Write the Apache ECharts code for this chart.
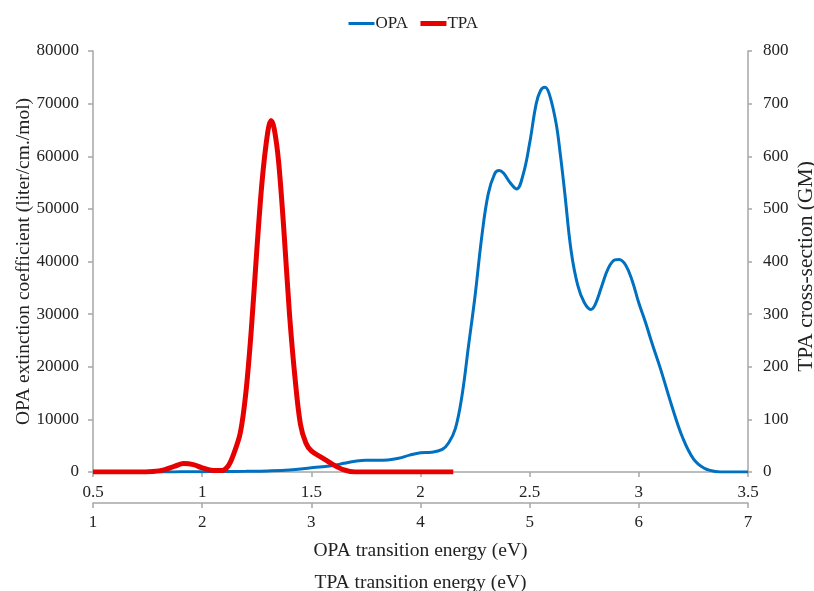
<!DOCTYPE html>
<html>
<head>
<meta charset="utf-8">
<script src="https://cdn.jsdelivr.net/npm/echarts@6/dist/echarts.min.js"></script>
<style>html,body{margin:0;padding:0;background:#fff;}#c{width:814px;height:591px;}</style>
</head>
<body>
<div id="c"></div>
<script>
// OPA: energy (eV, top row 0.5-3.5) vs extinction coefficient
var opaEnergy = [0.80, 0.90, 1.00, 1.10, 1.20, 1.30, 1.40, 1.50, 1.55, 1.60, 1.65, 1.70, 1.75, 1.80, 1.85, 1.90, 1.95, 2.00, 2.05, 2.10, 2.13, 2.16, 2.19, 2.22, 2.25, 2.28, 2.31, 2.34, 2.36, 2.38, 2.41, 2.44, 2.47, 2.50, 2.53, 2.55, 2.57, 2.59, 2.62, 2.64, 2.66, 2.69, 2.72, 2.75, 2.78, 2.80, 2.83, 2.86, 2.89, 2.91, 2.94, 2.97, 3.00, 3.03, 3.06, 3.10, 3.15, 3.20, 3.25, 3.30, 3.35, 3.40, 3.50];
var opaValue  = [0, 30, 60, 90, 130, 200, 380, 800, 1000, 1250, 1650, 2050, 2250, 2250, 2300, 2600, 3200, 3650, 3750, 4300, 5600, 8300, 14500, 24000, 33500, 44500, 52800, 56700, 57300, 56800, 55000, 53800, 56500, 62500, 70000, 72500, 73100, 71800, 66500, 60500, 53300, 42000, 35500, 32200, 30900, 31800, 35300, 38700, 40300, 40400, 39300, 36300, 32100, 28500, 24500, 19500, 12700, 6600, 2500, 700, 100, 0, 0];
// TPA: energy (eV, bottom row 1-7) vs cross-section (GM)
var tpaEnergy = [1.00, 1.40, 1.55, 1.65, 1.75, 1.83, 1.92, 2.00, 2.10, 2.18, 2.24, 2.29, 2.35, 2.40, 2.45, 2.50, 2.55, 2.60, 2.63, 2.66, 2.70, 2.75, 2.80, 2.85, 2.90, 2.95, 3.00, 3.10, 3.20, 3.30, 3.40, 3.60, 4.30];
var tpaValue  = [0, 0, 1, 4, 11, 16, 14, 8, 3, 3, 12, 35, 75, 150, 270, 420, 555, 645, 668, 652, 590, 455, 300, 180, 91, 55, 40, 27, 14, 4, 0, 0, 0];
var topTicks = ['0.5','1','1.5','2','2.5','3','3.5'];
var bottomTicks = ['1','2','3','4','5','6','7'];

function pairs(xs, ys){ return xs.map(function(x,i){ return [x, ys[i]]; }); }

var FONT = 'Liberation Serif';
var axisGrey = '#a6a6a6';
var txt = {fontFamily: FONT, fontSize: 17, color: '#222'};
var title = {fontFamily: FONT, fontSize: 19.5, color: '#222'};

var chart = echarts.init(document.getElementById('c'), null, {renderer: 'canvas'});
chart.setOption({
  backgroundColor: '#fff',
  animation: false,
  textStyle: {fontFamily: FONT},
  legend: {
    top: 10, left: 342,
    itemWidth: 26, itemHeight: 14, itemGap: 10,
    itemStyle: {opacity: 0},
    textStyle: {fontFamily: FONT, fontSize: 17, color: '#222', padding: [0,0,0,-4]},
    data: [
      {name: 'OPA', lineStyle: {width: 3, color: '#0070c0'}},
      {name: 'TPA', lineStyle: {width: 5, color: '#e60000'}}
    ]
  },
  grid: {left: 93, right: 66, top: 51, bottom: 119, containLabel: false, outerBoundsMode: 'none'},
  xAxis: [
    {
      type: 'value', min: 0.5, max: 3.5, interval: 0.5, position: 'bottom',
      name: 'OPA transition energy (eV)', nameLocation: 'middle', nameGap: 69, nameMoveOverlap: false,
      nameTextStyle: title,
      axisLine: {show: true, onZero: false, lineStyle: {color: axisGrey, width: 1.5}},
      axisTick: {show: true, length: 5, lineStyle: {color: axisGrey, width: 1.5}},
      axisLabel: Object.assign({margin: 12, formatter: function(v){ var s = String(+v.toFixed(1)); return topTicks.indexOf(s) >= 0 ? s : ''; }}, txt),
      splitLine: {show: false}
    },
    {
      type: 'value', min: 1, max: 7, interval: 1, position: 'bottom', offset: 31,
      name: 'TPA transition energy (eV)', nameLocation: 'middle', nameGap: 70, nameMoveOverlap: false,
      nameTextStyle: title,
      axisLine: {show: true, onZero: false, lineStyle: {color: axisGrey, width: 1.5}},
      axisTick: {show: true, length: 5, lineStyle: {color: axisGrey, width: 1.5}},
      axisLabel: Object.assign({margin: 11, formatter: function(v){ var s = String(Math.round(v)); return bottomTicks.indexOf(s) >= 0 ? s : ''; }}, txt),
      splitLine: {show: false}
    }
  ],
  yAxis: [
    {
      type: 'value', min: 0, max: 80000, interval: 10000, position: 'left',
      name: 'OPA extinction coefficient (liter/cm./mol)', nameLocation: 'middle', nameGap: 59, nameMoveOverlap: false,
      nameTextStyle: title,
      axisLine: {show: true, lineStyle: {color: axisGrey, width: 1.5}},
      axisTick: {show: true, length: 5, lineStyle: {color: axisGrey, width: 1.5}},
      axisLabel: Object.assign({margin: 14, formatter: function(v){ return String(v); }}, txt),
      splitLine: {show: false}
    },
    {
      type: 'value', min: 0, max: 800, interval: 100, position: 'right',
      name: 'TPA cross-section (GM)', nameLocation: 'middle', nameGap: 47, nameMoveOverlap: false,
      nameTextStyle: Object.assign({}, title, {fontSize: 21.5, padding: [0, 10, 0, 0]}),
      axisLine: {show: true, lineStyle: {color: axisGrey, width: 1.5}},
      axisTick: {show: true, length: 4, lineStyle: {color: axisGrey, width: 1.5}},
      axisLabel: Object.assign({margin: 15, formatter: function(v){ return String(v); }}, txt),
      splitLine: {show: false}
    }
  ],
  series: [
    {
      name: 'OPA', type: 'line', xAxisIndex: 0, yAxisIndex: 0,
      data: pairs(opaEnergy, opaValue),
      smooth: 0.4, symbol: 'none',
      lineStyle: {color: '#0070c0', width: 3},
      itemStyle: {color: '#0070c0'}
    },
    {
      name: 'TPA', type: 'line', xAxisIndex: 1, yAxisIndex: 1,
      data: pairs(tpaEnergy, tpaValue),
      smooth: 0.35, symbol: 'none',
      lineStyle: {color: '#e60000', width: 5},
      itemStyle: {color: '#e60000'}
    }
  ]
});
</script>
</body>
</html>
